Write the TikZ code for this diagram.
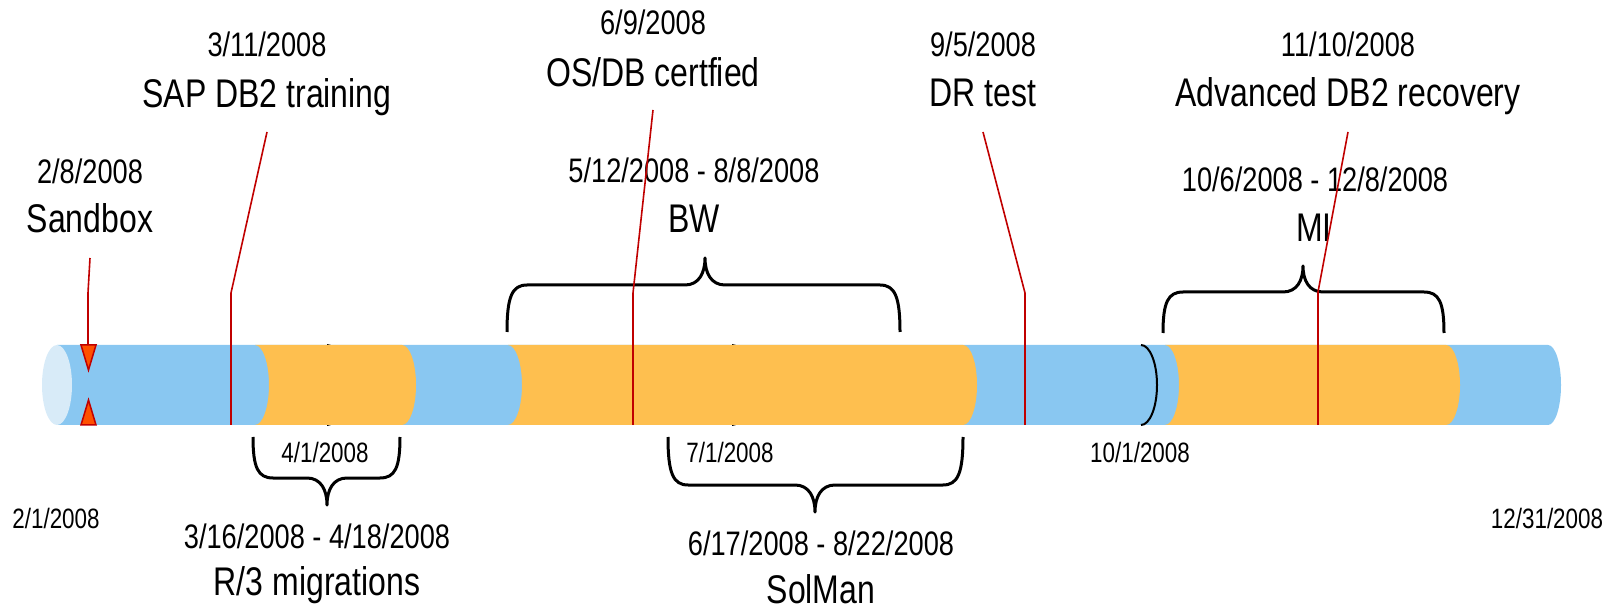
\documentclass[tikz,border=0pt]{standalone}
\usepackage{fontspec}
\setmainfont{Liberation Sans}[FakeStretch=0.8]
\definecolor{tubeblue}{HTML}{89C7F1}
\definecolor{segorange}{HTML}{FEBF4F}
\definecolor{capblue}{HTML}{D8EBF8}
\definecolor{evred}{HTML}{C00000}
\definecolor{trifill}{HTML}{FF5000}
\newcommand\tlbrace[6]{%
  \draw[bracestyle] (#1,#4) .. controls (#1,{#5+0.25*(#4-#5)}) and ({#1+5},#5) .. ({#1+20},#5)
    -- ({#3-20},#5) .. controls ({#3-6},#5) and (#3,{#5+0.45*(#6-#5)}) .. (#3,#6)
    .. controls (#3,{#5+0.45*(#6-#5)}) and ({#3+6},#5) .. ({#3+20},#5)
    -- ({#2-20},#5) .. controls ({#2-5},#5) and (#2,{#5+0.25*(#4-#5)}) .. (#2,#4);}
\begin{document}
\begin{tikzpicture}[x=1pt,y=-1pt,
  lbltitle/.style={anchor=base, inner sep=0pt, font=\fontsize{40}{48}\selectfont},
  lbldate/.style={anchor=base, inner sep=0pt, font=\fontsize{34}{40}\selectfont},
  lblsmall/.style={anchor=base, inner sep=0pt, font=\fontsize{28}{34}\selectfont},
  evline/.style={draw=evred, line width=1.6pt},
  bracestyle/.style={draw=black, line width=3pt, line join=round},
  qarc/.style={draw=black, line width=2pt},
  marker/.style={fill=trifill, draw=evred, line width=1.5pt, line join=miter}]
\useasboundingbox (0,0) rectangle (1615,609);
% tube
\fill[tubeblue] (57,345) -- (1548,345) arc[start angle=90,end angle=-90,x radius=13pt,y radius=40pt] -- (57,425) -- cycle;
\fill[capblue] (57,385) ellipse[x radius=15pt, y radius=40pt];
% quarter arcs
\foreach \q in {327,732,1141}
  \draw[qarc] (\q,345) arc[start angle=90,end angle=-90,x radius=16pt,y radius=40pt];
% project segments
\foreach \a/\b in {255/402, 508/963, 1165/1446}
  \fill[segorange] (\a,345) -- (\b,345) arc[start angle=90,end angle=-90,x radius=14pt,y radius=40pt]
    -- (\a,425) arc[start angle=-90,end angle=90,x radius=14pt,y radius=40pt] -- cycle;
% braces
\tlbrace{507}{900}{705}{332}{285}{258}
\tlbrace{1163}{1444}{1303}{333}{292}{266}
\tlbrace{253}{400}{327}{437}{478}{505}
\tlbrace{668}{963}{815}{437}{485}{512}
% labels top
\node[lbldate]  (d1) at (90,184) {2/8/2008};
\node[lbltitle] (t1) at (90,233) {Sandbox};
\node[lbldate]  (d2) at (267,57) {3/11/2008};
\node[lbltitle] (t2) at (267,108) {SAP DB2 training};
\node[lbldate]  (d3) at (653,35) {6/9/2008};
\node[lbltitle] (t3) at (653,87) {OS/DB certfied};
\node[lbldate]  (r1d) at (694,183) {5/12/2008 - 8/8/2008};
\node[lbltitle] (r1t) at (694,233) {BW};
\node[lbldate]  (d4) at (983,57) {9/5/2008};
\node[lbltitle] (t4) at (983,107) {DR test};
\node[lbldate]  (d5) at (1348,57) {11/10/2008};
\node[lbltitle] (t5) at (1348,107) {Advanced DB2 recovery};
\node[lbldate]  (r2d) at (1315,192) {10/6/2008 - 12/8/2008};
\node[lbltitle] (r2t) at (1314,242) {MI};
% labels bottom
\node[lblsmall] (q1) at (325,463) {4/1/2008};
\node[lblsmall] (q2) at (730,463) {7/1/2008};
\node[lblsmall] (q3) at (1140,463) {10/1/2008};
\node[lblsmall] (s0) at (56,528) {2/1/2008};
\node[lblsmall] (s1) at (1547,528) {12/31/2008};
\node[lbldate]  (r3d) at (317,548) {3/16/2008 - 4/18/2008};
\node[lbltitle] (r3t) at (317,595) {R/3 migrations};
\node[lbldate]  (r4d) at (821,555) {6/17/2008 - 8/22/2008};
\node[lbltitle] (r4t) at (821,603) {SolMan};
% event connectors
\coordinate (k1) at (88,293);  \coordinate (b1) at (88,345);
\coordinate (k2) at (231,293); \coordinate (b2) at (231,425);
\coordinate (k3) at (633,293); \coordinate (b3) at (633,425);
\coordinate (k4) at (1025,293); \coordinate (b4) at (1025,425);
\coordinate (k5) at (1318,292); \coordinate (b5) at (1318,425);
\draw[evline] ([yshift=-25pt]t1.base) -- (k1) -- (b1);
\draw[evline] ([yshift=-24pt]t2.base) -- (k2) -- (b2);
\draw[evline] ([yshift=-23pt]t3.base) -- (k3) -- (b3);
\draw[evline] ([yshift=-25pt]t4.base) -- (k4) -- (b4);
\draw[evline] ([yshift=-25pt]t5.base) -- (k5) -- (b5);
% sandbox markers
\draw[marker] (81,345) -- (96,345) -- (88.5,370) -- cycle;
\draw[marker] (81,425) -- (96,425) -- (88.5,400) -- cycle;
\end{tikzpicture}
\end{document}
